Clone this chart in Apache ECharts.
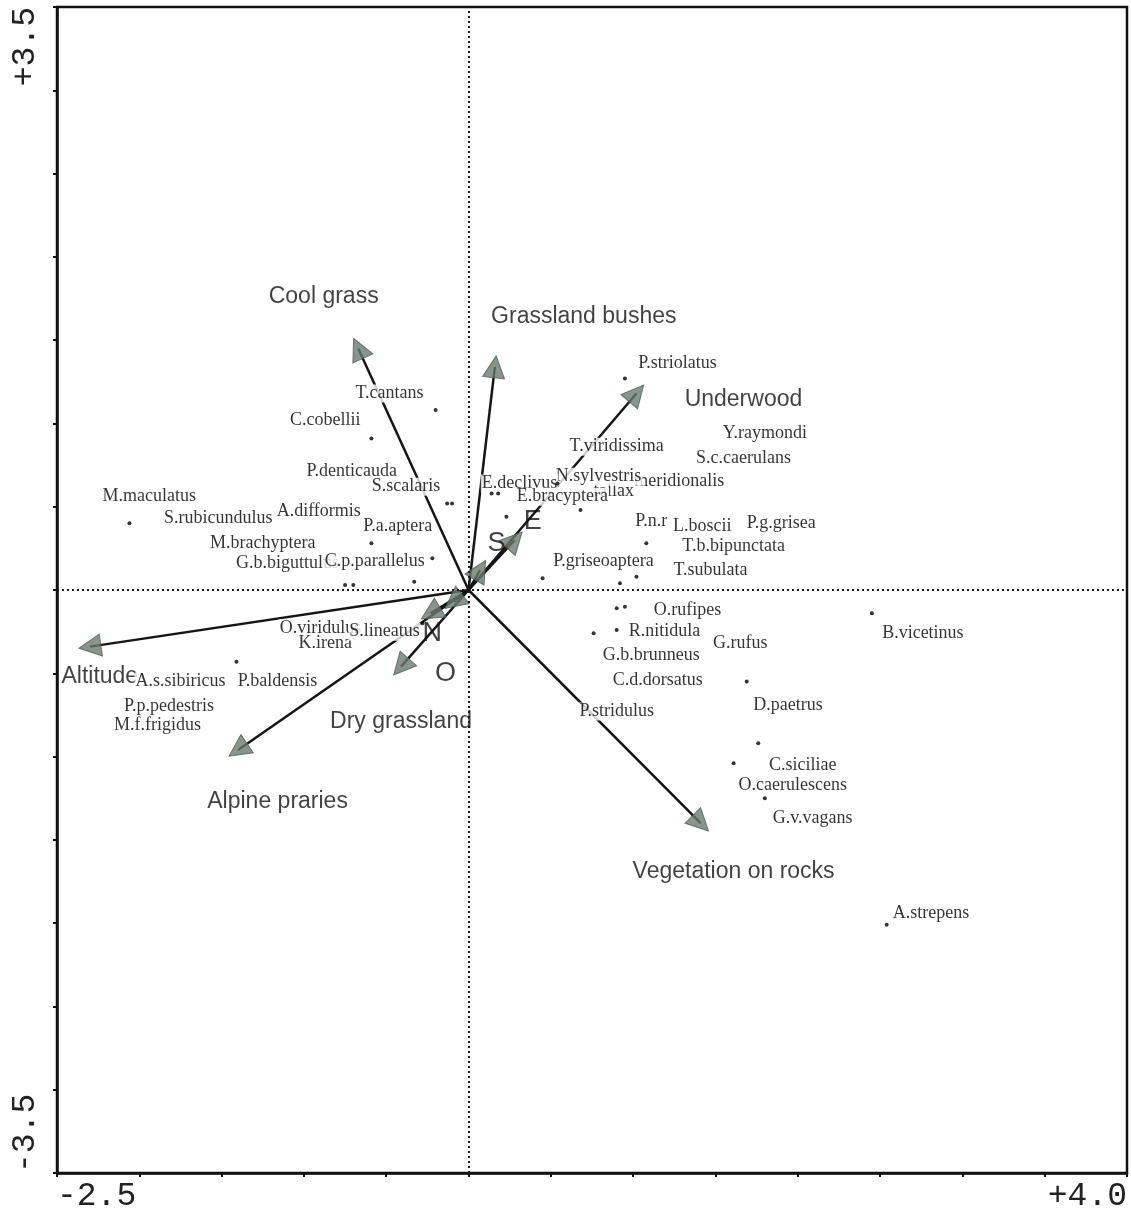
<!DOCTYPE html>
<html>
<head>
<meta charset="utf-8">
<script src="https://cdn.jsdelivr.net/npm/echarts@6/dist/echarts.min.js"></script>
<style>
  html, body { margin: 0; padding: 0; background: #fff; }
  #chart { width: 1131px; height: 1213px; }
</style>
</head>
<body>
<div id="chart"></div>
<script>
// Axis extents and the two printed end labels of each axis
const xRange = [-2.5, 4.0];
const yRange = [-3.5, 3.5];
const xTickLabels = ['-2.5', '+4.0'];
const yTickLabels = ['-3.5', '+3.5'];

// Environmental variables: arrow tips (biplot scores)
const envNames = ['Cool grass', 'Grassland bushes', 'Underwood', 'Altitude', 'Alpine praries',
  'Dry grassland', 'Vegetation on rocks', 'N', 'O', 'S', 'E'];
const envX = [-0.67, 0.16, 1.02, -2.30, -1.40, -0.41, 1.41, -0.23, -0.09, 0.07, 0.28];
const envY = [1.45, 1.34, 1.18, -0.34, -0.96, -0.46, -1.40, -0.14, -0.07, 0.12, 0.30];
// where each variable name is written
const envLabelX = [-0.88, 0.70, 1.67, -2.24, -1.16, -0.41, 1.61, -0.22, -0.14, 0.17, 0.39];
const envLabelY = [1.76, 1.64, 1.14, -0.52, -1.27, -0.79, -1.69, -0.26, -0.50, 0.28, 0.41];

// Species names and where each name is written
const speciesNames = [
  'T.cantans', 'C.cobellii', 'P.denticauda', 'S.scalaris', 'M.maculatus', 'S.rubicundulus',
  'A.difformis', 'P.a.aptera', 'M.brachyptera', 'G.b.biguttulus', 'C.p.parallelus',
  'P.striolatus', 'T.viridissima', 'Y.raymondi', 'S.c.caerulans', 'meridionalis', 'fallax',
  'N.sylvestris', 'E.declivus', 'E.bracyptera', 'P.n.r', 'L.boscii', 'P.g.grisea',
  'T.b.bipunctata', 'P.griseoaptera', 'T.subulata',
  'O.rufipes', 'R.nitidula', 'G.b.brunneus', 'G.rufus', 'C.d.dorsatus', 'D.paetrus',
  'P.stridulus', 'C.siciliae', 'O.caerulescens', 'G.v.vagans', 'B.vicetinus', 'A.strepens',
  'O.viridulus', 'K.irena', 'S.lineatus', 'A.s.sibiricus', 'P.baldensis', 'P.p.pedestris',
  'M.f.frigidus'
];
const speciesLabelX = [
  -0.48, -0.87, -0.71, -0.38, -1.94, -1.52, -0.91, -0.43, -1.25, -1.10, -0.57,
  1.27, 0.90, 1.80, 1.67, 1.28, 0.88, 0.79, 0.31, 0.57, 1.11, 1.42, 1.90, 1.61, 0.82, 1.47,
  1.33, 1.19, 1.11, 1.65, 1.15, 1.94, 0.90, 2.03, 1.97, 2.09, 2.76, 2.81,
  -0.90, -0.87, -0.51, -1.75, -1.16, -1.82, -1.89
];
const speciesLabelY = [
  1.18, 1.02, 0.71, 0.62, 0.56, 0.43, 0.47, 0.38, 0.28, 0.16, 0.17,
  1.36, 0.86, 0.94, 0.79, 0.65, 0.59, 0.68, 0.64, 0.56, 0.41, 0.38, 0.40, 0.26, 0.17, 0.12,
  -0.12, -0.25, -0.39, -0.32, -0.54, -0.69, -0.73, -1.05, -1.17, -1.37, -0.26, -1.94,
  -0.23, -0.32, -0.25, -0.55, -0.55, -0.70, -0.81
];

// Species scores (plotted points)
const speciesPointX = [
  -2.06, -0.20, -0.59, -0.13, -0.10, -0.59, -0.22, -0.75, -0.70, -0.33,
  0.95, 0.23, 0.14, 0.18, 0.54, 0.68, 0.45, 1.08, 1.02, 0.92,
  0.90, 0.95, 0.76, 0.90, 1.69, 1.76, 1.61, 1.80, 2.45, 2.54,
  -1.41, -0.28
];
const speciesPointY = [
  0.40, 1.08, 0.91, 0.52, 0.52, 0.28, 0.19, 0.03, 0.03, 0.05,
  1.27, 0.44, 0.58, 0.58, 0.64, 0.48, 0.07, 0.28, 0.08, 0.04,
  -0.11, -0.10, -0.26, -0.24, -0.55, -0.92, -1.04, -1.25, -0.14, -2.01,
  -0.43, -0.20
];

const chart = echarts.init(document.getElementById('chart'), null, { renderer: 'canvas' });

const near = (a, b) => Math.abs(a - b) < 1e-6;
const endLabel = (range, labels) => (v) =>
  near(v, range[0]) ? labels[0] : (near(v, range[1]) ? labels[1] : '');

const axisColor = '#111';
const tickFont = 'Liberation Mono';

const option = {
  backgroundColor: '#ffffff',
  animation: false,
  grid: {
    left: 57, right: 4, top: 7, bottom: 40,
    show: true, borderColor: axisColor, borderWidth: 2.5, backgroundColor: 'transparent'
  },
  xAxis: {
    type: 'value', min: xRange[0], max: xRange[1], interval: 0.5,
    axisLine: { show: true, onZero: false, lineStyle: { color: axisColor, width: 2.5 } },
    axisTick: { show: true, length: 4, lineStyle: { color: axisColor, width: 2 } },
    splitLine: { show: false },
    axisLabel: {
      formatter: endLabel(xRange, xTickLabels),
      showMinLabel: true, showMaxLabel: true,
      alignMinLabel: 'left', alignMaxLabel: 'right',
      margin: 7, fontFamily: tickFont, fontSize: 33, color: '#222'
    }
  },
  yAxis: {
    type: 'value', min: yRange[0], max: yRange[1], interval: 0.5,
    axisLine: { show: true, onZero: false, lineStyle: { color: axisColor, width: 2.5 } },
    axisTick: { show: true, length: 4, lineStyle: { color: axisColor, width: 2 } },
    splitLine: { show: false },
    axisLabel: {
      formatter: endLabel(yRange, yTickLabels),
      showMinLabel: true, showMaxLabel: true,
      rotate: 90,
      alignMinLabel: 'left', alignMaxLabel: 'right',
      margin: 15, fontFamily: tickFont, fontSize: 33, color: '#222'
    }
  },
  series: [
    {
      // dotted reference lines through the origin
      type: 'scatter', data: [], z: 1, silent: true,
      markLine: {
        silent: true, symbol: 'none', animation: false,
        label: { show: false },
        lineStyle: { color: '#1a1a1a', width: 2, type: [2, 3] },
        data: [{ xAxis: 0 }, { yAxis: 0 }]
      }
    },
    {
      // environmental arrows
      type: 'lines', coordinateSystem: 'cartesian2d', z: 2, silent: true,
      symbol: 'none',
      lineStyle: { color: '#151515', width: 2.5, opacity: 1 },
      data: envNames.map((n, i) => ({ name: n, coords: [[0, 0], [envX[i], envY[i]]] }))
    },
    {
      // arrow heads, turned along each arrow
      type: 'scatter', z: 3, silent: true,
      symbol: 'triangle', symbolSize: 22,
      itemStyle: { color: '#687c71', borderColor: '#4f5f56', borderWidth: 1 },
      data: envNames.map((n, i) => ({
        name: n,
        value: [envX[i], envY[i]],
        symbolRotate: Math.atan2(envY[i], envX[i]) * 180 / Math.PI - 90
      }))
    },
    {
      // environmental variable names
      type: 'scatter', z: 4, silent: true,
      symbolSize: 0,
      label: {
        show: true, position: 'inside',
        formatter: (p) => p.name,
        fontFamily: 'Liberation Sans', fontSize: 23, color: '#111'
      },
      data: envNames.map((n, i) => ({
        name: n, value: [envLabelX[i], envLabelY[i]],
        label: n.length === 1 ? { fontSize: 27 } : undefined
      }))
    },
    {
      // species names
      type: 'scatter', z: 5, silent: true,
      symbolSize: 0,
      label: {
        show: true, position: 'inside',
        formatter: (p) => p.name,
        fontFamily: 'Liberation Serif', fontSize: 18, color: '#000',
        backgroundColor: '#ffffff', padding: [0, 1]
      },
      labelLayout: { hideOverlap: false },
      data: speciesNames.map((n, i) => ({ name: n, value: [speciesLabelX[i], speciesLabelY[i]] }))
    },
    {
      // species scores
      type: 'scatter', z: 6, silent: true,
      symbol: 'circle', symbolSize: 4,
      itemStyle: { color: '#000' },
      data: speciesPointX.map((x, i) => [x, speciesPointY[i]])
    }
  ]
};

chart.setOption(option);
</script>
</body>
</html>
